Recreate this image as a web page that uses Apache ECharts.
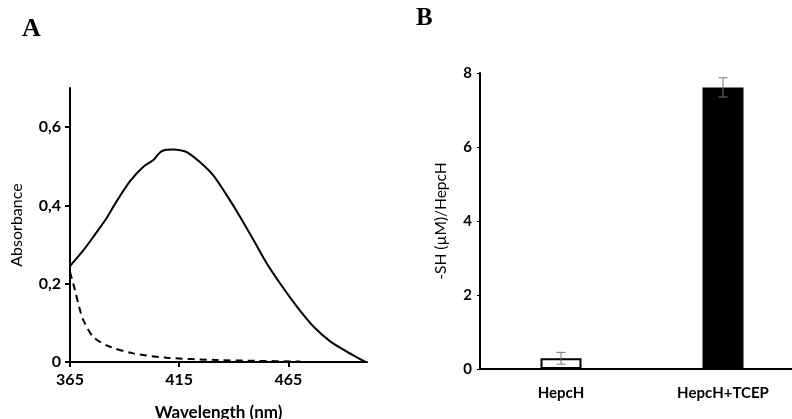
<!DOCTYPE html>
<html>
<head>
<meta charset="utf-8">
<script src="https://cdn.jsdelivr.net/npm/echarts@6/dist/echarts.min.js"></script>
<style>
  html, body { margin: 0; padding: 0; background: #fff; }
  #chart { width: 792px; height: 419px; }
</style>
</head>
<body>
<div id="chart"></div>
<script>
// Panel A: absorbance spectra (wavelength nm, absorbance)
const solidSpectrum = [
  [365, 0.245], [371.1, 0.285], [375.7, 0.320], [381.8, 0.368], [386.4, 0.411],
  [392.5, 0.462], [398.6, 0.499], [403.2, 0.516], [406.3, 0.536], [409, 0.542],
  [412.4, 0.543], [415.5, 0.541], [418.5, 0.536], [424.6, 0.510], [430.7, 0.476],
  [436.9, 0.425], [443, 0.370], [449.1, 0.311], [455.2, 0.251], [461.3, 0.200],
  [469, 0.141], [476.6, 0.090], [484.3, 0.052], [491.9, 0.026], [500.3, 0]
];
const dashedSpectrum = [
  [365, 0.230], [367.3, 0.183], [369, 0.145], [371.1, 0.107], [375.7, 0.064],
  [383.3, 0.039], [394, 0.022], [409.3, 0.011], [432.3, 0.005], [450, 0.003],
  [470.5, 0.001]
];
const wavelengthTicks = [365, 415, 465];
const absorbanceTicks = [0, 0.2, 0.4, 0.6];

// Panel B: thiol content
const categories = ['HepcH', 'HepcH+TCEP'];
const thiolValues = [0.29, 7.61];
const thiolErrors = [0.16, 0.26];

const chart = echarts.init(document.getElementById('chart'));
const font = 'Lato, "Liberation Sans", sans-serif';
const comma = (v) => String(v).replace('.', ',');

chart.setOption({
  backgroundColor: '#fff',
  animation: false,
  textStyle: { fontFamily: font },
  graphic: [
    { type: 'text', left: 22, top: 16, style: { text: 'A', font: 'bold 26px "Liberation Serif", serif', fill: '#000' } },
    { type: 'text', left: 416, top: 6, style: { text: 'B', font: 'bold 25px "Liberation Serif", serif', fill: '#000' } }
  ],
  grid: [
    { left: 70, top: 88, width: 297, height: 274, outerBoundsMode: 'none' },
    { left: 480, top: 73, width: 324, height: 296, outerBoundsMode: 'none' }
  ],
  xAxis: [
    {
      gridIndex: 0, type: 'value', min: 365, max: 501,
      name: 'Wavelength (nm)', nameLocation: 'middle', nameGap: 42,
      nameTextStyle: { color: '#000', fontSize: 17, fontWeight: 'bold', fontFamily: font },
      axisLine: { lineStyle: { color: '#000', width: 2 } },
      axisTick: { show: true, length: 5, lineStyle: { color: '#000', width: 2 }, customValues: wavelengthTicks },
      axisLabel: { color: '#000', fontSize: 16, fontWeight: 'bold', margin: 10, customValues: wavelengthTicks },
      splitLine: { show: false }
    },
    {
      gridIndex: 1, type: 'category', data: categories,
      axisLine: { lineStyle: { color: '#000', width: 2 } },
      axisTick: { show: false },
      axisLabel: { color: '#000', fontSize: 15, fontWeight: 'bold', margin: 17 }
    }
  ],
  yAxis: [
    {
      gridIndex: 0, type: 'value', min: 0, max: 0.7,
      name: 'Absorbance', nameLocation: 'middle', nameGap: 45,
      nameTextStyle: { color: '#000', fontSize: 16, fontFamily: font },
      axisLine: { show: true, lineStyle: { color: '#000', width: 2 } },
      axisTick: { show: true, length: 5, lineStyle: { color: '#000', width: 2 }, customValues: absorbanceTicks },
      axisLabel: { color: '#000', fontSize: 16, fontWeight: 'bold', margin: 9, customValues: absorbanceTicks, formatter: comma },
      splitLine: { show: false }
    },
    {
      gridIndex: 1, type: 'value', min: 0, max: 8, interval: 2,
      name: '-SH (µM)/HepcH', nameLocation: 'middle', nameGap: 31,
      nameTextStyle: { color: '#000', fontSize: 15.5, fontFamily: font },
      axisLine: { show: true, lineStyle: { color: '#000', width: 2 } },
      axisTick: { show: true, length: 3, lineStyle: { color: '#000', width: 1 } },
      axisLabel: { color: '#000', fontSize: 15, fontWeight: 'bold', margin: 8 },
      splitLine: { show: false }
    }
  ],
  series: [
    {
      type: 'line', xAxisIndex: 0, yAxisIndex: 0, data: solidSpectrum,
      smooth: 0.25, showSymbol: false, lineStyle: { color: '#000', width: 2 }
    },
    {
      type: 'line', xAxisIndex: 0, yAxisIndex: 0, data: dashedSpectrum,
      smooth: 0.3, showSymbol: false, lineStyle: { color: '#000', width: 2, type: [7, 5] }
    },
    {
      type: 'bar', xAxisIndex: 1, yAxisIndex: 1, barWidth: 41,
      data: thiolValues.map((v, i) => ({
        value: v,
        itemStyle: i === 0
          ? { color: '#fff', borderColor: '#000', borderWidth: 2 }
          : { color: '#000' }
      }))
    },
    {
      type: 'custom', xAxisIndex: 1, yAxisIndex: 1,
      data: thiolValues.map((v, i) => [i, v - thiolErrors[i], v + thiolErrors[i]]),
      renderItem: (params, api) => {
        const lo = api.coord([api.value(0), api.value(1)]);
        const hi = api.coord([api.value(0), api.value(2)]);
        const cap = 4.5;
        const style = { stroke: '#777', lineWidth: 1 };
        return {
          type: 'group',
          children: [
            { type: 'line', shape: { x1: lo[0], y1: lo[1], x2: hi[0], y2: hi[1] }, style },
            { type: 'line', shape: { x1: lo[0] - cap, y1: lo[1], x2: lo[0] + cap, y2: lo[1] }, style },
            { type: 'line', shape: { x1: hi[0] - cap, y1: hi[1], x2: hi[0] + cap, y2: hi[1] }, style }
          ]
        };
      },
      z: 10
    }
  ]
});
</script>
</body>
</html>
